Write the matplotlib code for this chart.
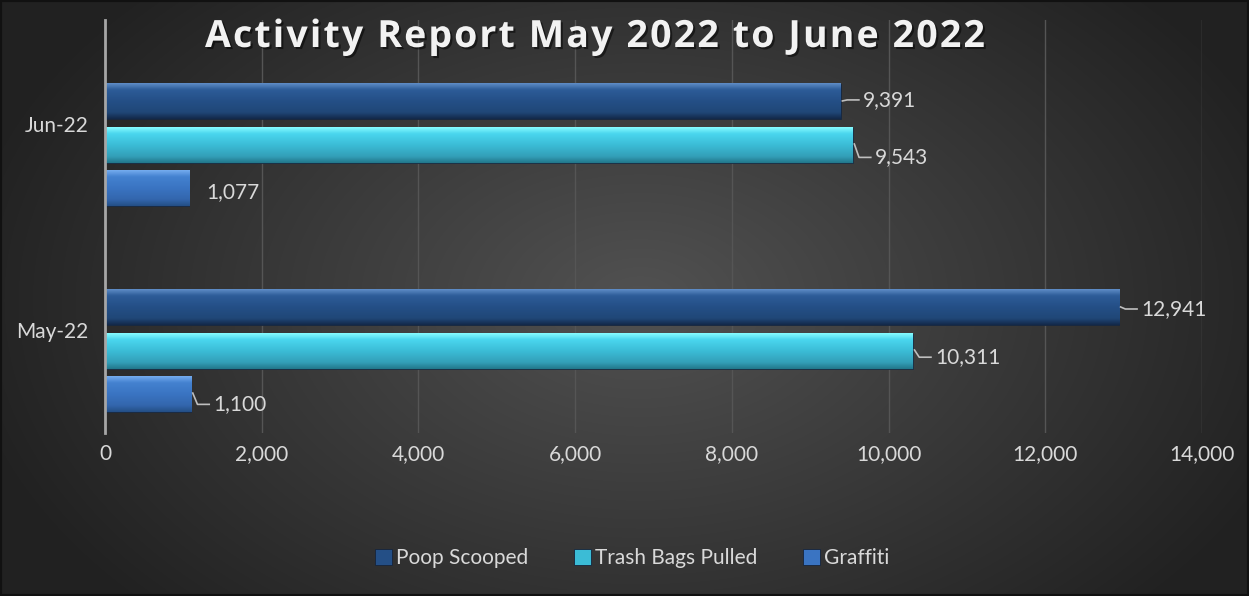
import numpy as np
import matplotlib.pyplot as plt
import matplotlib.patheffects as pe
from matplotlib.patches import Rectangle
from matplotlib.colors import to_rgb

months = ['May-22', 'Jun-22']
series = ['Poop Scooped', 'Trash Bags Pulled', 'Graffiti']
poop = [12941, 9391]
trash = [10311, 9543]
graffiti = [1100, 1077]
xticks = [0, 2000, 4000, 6000, 8000, 10000, 12000, 14000]
title = 'Activity Report May 2022 to June 2022'

colors = ['#244f86', '#3bbcd6', '#3a74c2']
# vertical gradient stops (top -> bottom) to imitate the bevel
grads = [
    ['#5e8cc6', '#2d5c98', '#244f86', '#204777', '#13294a'],
    ['#86fbff', '#4ad6ee', '#3bbcd6', '#339fb8', '#22788c'],
    ['#74abee', '#4482d0', '#3a74c2', '#3366ad', '#244f86'],
]
txt = '#d9d9d9'

plt.rcParams['font.family'] = ['Lato', 'DejaVu Sans']

fig = plt.figure(figsize=(12.49, 5.96), dpi=100)

# radial background
bg = fig.add_axes([0, 0, 1, 1], zorder=-10)
yy, xx = np.mgrid[0:596, 0:1249]
r = np.sqrt(((xx - 640) / 800.0) ** 2 + ((yy - 300) / 520.0) ** 2)
shade = np.clip(0.32 - 0.22 * r, 0.13, 0.34)
bg.imshow(np.dstack([shade, shade, shade]), extent=[0, 1, 0, 1], aspect='auto')
bg.add_patch(Rectangle((0, 0), 1, 1, transform=bg.transAxes, fill=False,
                       edgecolor='#111111', lw=3))
bg.axis('off')

ax = fig.add_axes([105 / 1249, 1 - 433 / 596, (1202 - 105) / 1249, 413 / 596])
ax.set_facecolor('none')

pos = np.arange(len(months))
off = 0.209
h = 0.17
vals = [poop, trash, graffiti]
for i, (name, v) in enumerate(zip(series, vals)):
    y = pos + off * (1 - i)
    bars = ax.barh(y, v, height=h, color=colors[i], edgecolor='#16243a', lw=0.6,
                   label=name, zorder=3)
    stops = np.array([to_rgb(c) for c in grads[i]])
    t = np.linspace(0, 1, 60)
    sp = np.array([0, 0.18, 0.5, 0.82, 1.0])
    g = np.stack([np.interp(t, sp, stops[:, k]) for k in range(3)], axis=1)
    img = g[:, None, :]
    for b in bars:
        ax.imshow(img, extent=[b.get_x(), b.get_x() + b.get_width(),
                               b.get_y(), b.get_y() + b.get_height()],
                  aspect='auto', origin='upper', clip_path=b, zorder=3.5,
                  interpolation='bilinear')

# data labels with leader lines
lead = {(0, 0): True, (0, 1): True, (1, 0): True, (1, 1): True, (2, 0): True, (2, 1): False}
dy = {(0, 0): -0.005, (0, 1): 0.01, (1, 0): -0.03, (1, 1): -0.06, (2, 0): -0.05, (2, 1): -0.02}
for i, v in enumerate(vals):
    for j in range(len(months)):
        y = pos[j] + off * (1 - i)
        x0 = v[j]
        ty = y + dy[(i, j)]
        if lead[(i, j)]:
            ax.plot([x0 + 20, x0 + 80, x0 + 230], [y + 0.005, ty, ty], color='#bfbfbf', lw=1.2,
                    zorder=5)
            xt = x0 + 280
        else:
            xt = x0 + 220
        ax.text(xt, ty, f'{x0:,}', color=txt, fontsize=15, va='center', ha='left')

ax.set_xlim(0, 14000)
ax.set_ylim(-0.398, 1.607)
ax.set_xticks(xticks)
ax.set_xticklabels([f'{t:,}' for t in xticks], color=txt, fontsize=15)
ax.set_yticks(pos + 0.1)
ax.set_yticklabels(months, color=txt, fontsize=15)
ax.tick_params(length=0, pad=8)
ax.tick_params(axis='y', pad=12)
ax.grid(axis='x', color='#555555', lw=1, zorder=0)
for s in ['top', 'right', 'bottom']:
    ax.spines[s].set_visible(False)
ax.spines['left'].set_color('#a6a6a6')
ax.spines['left'].set_linewidth(2)
ax.spines['left'].set_zorder(6)

# title with extra letter spacing, laid out character by character
renderer = fig.canvas.get_renderer()
tkw = dict(fontsize=27, fontweight='bold', color='#f2f2f2',
           family=['Open Sans', 'DejaVu Sans'], va='baseline', ha='left',
           path_effects=[pe.withSimplePatchShadow(offset=(1.5, -1.5), shadow_rgbFace='black',
                                                  alpha=0.5)])


def wpx(s):
    tmp = fig.text(0, 0, s, **tkw)
    w = tmp.get_window_extent(renderer).width
    tmp.remove()
    return w


base = wpx('II')
adv = [wpx('I' + ch + 'I') - base for ch in title]
target_w = 780.0
extra = (target_w - sum(adv)) / (len(title) - 1)
xpix = 595 - target_w / 2
for ch, w in zip(title, adv):
    if ch != ' ':
        fig.text(xpix / 1249, 1 - 47 / 596, ch, **tkw)
    xpix += w + extra

handles, labels = ax.get_legend_handles_labels()
fig.legend(handles, labels, loc='center', bbox_to_anchor=(632 / 1249, 1 - 558 / 596),
           ncol=3, frameon=False, fontsize=15, labelcolor=txt, handlelength=0.8,
           handleheight=0.8, handletextpad=0.2, columnspacing=2.2)

fig.savefig('out.png', dpi=100)
